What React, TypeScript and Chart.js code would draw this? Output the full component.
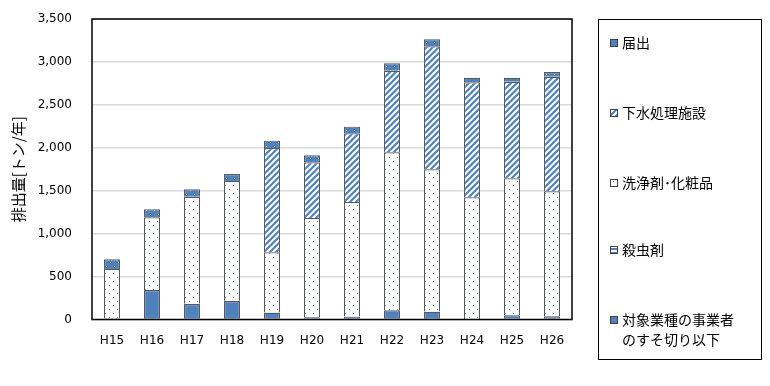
import React, { useEffect, useRef } from "react";
import { Chart, registerables } from "chart.js";

Chart.register(...registerables);

const categories = ["H15", "H16", "H17", "H18", "H19", "H20", "H21", "H22", "H23", "H24", "H25", "H26"];
const susokiri = [14, 343, 181, 215, 79, 26, 33, 107, 91, 0, 49, 37];
const satchuzai = [2, 2, 2, 2, 2, 2, 2, 2, 2, 2, 2, 2];
const senjozai = [571, 845, 1247, 1396, 702, 1154, 1333, 1838, 1656, 1421, 1593, 1454];
const gesui = [0, 0, 0, 0, 1214, 649, 800, 951, 1433, 1340, 1126, 1335];
const todokede = [115, 93, 86, 82, 86, 81, 78, 86, 81, 53, 46, 55];
const yTicksMax = 3500;
const yStep = 500;
const yTitle = "排出量[トン/年]";
const legendLabels = ["届出", "下水処理施設", "洗浄剤･化粧品", "殺虫剤", "対象業種の事業者|のすそ切り以下"];

const BLUE = "#4F81BD";

function makePattern(w: number, h: number, draw: (c: CanvasRenderingContext2D) => void) {
  const cv = document.createElement("canvas");
  cv.width = w;
  cv.height = h;
  const c = cv.getContext("2d")!;
  draw(c);
  return c.createPattern(cv, "repeat")!;
}

export default function App() {
  const ref = useRef<HTMLCanvasElement>(null);
  useEffect(() => {
    document.body.style.margin = "0";
    const dots = makePattern(8, 8, (c) => {
      c.fillStyle = "#fff";
      c.fillRect(0, 0, 8, 8);
      c.fillStyle = "#6A7FA8";
      c.fillRect(1, 1, 1, 1);
      c.fillRect(5, 5, 1, 1);
    });
    const hatch = makePattern(6, 6, (c) => {
      c.fillStyle = "#fff";
      c.fillRect(0, 0, 6, 6);
      c.strokeStyle = BLUE;
      c.lineWidth = 2.2;
      c.beginPath();
      c.moveTo(-1, 7);
      c.lineTo(7, -1);
      c.moveTo(-4, 4);
      c.lineTo(4, -4);
      c.moveTo(2, 10);
      c.lineTo(10, 2);
      c.stroke();
    });
    const blueDots = makePattern(8, 8, (c) => {
      c.fillStyle = BLUE;
      c.fillRect(0, 0, 8, 8);
      c.fillStyle = "#fff";
      c.fillRect(2, 2, 1, 1);
      c.fillRect(6, 6, 1, 1);
    });
    const hlines = makePattern(4, 4, (c) => {
      c.fillStyle = "#fff";
      c.fillRect(0, 0, 4, 4);
      c.fillStyle = BLUE;
      c.fillRect(0, 0, 4, 2);
    });
    const legendFills = [blueDots, hatch, dots, hlines, BLUE];

    const framePlugin = {
      id: "frame",
      afterDraw(chart: any) {
        const { ctx, chartArea: a } = chart;
        ctx.save();
        ctx.strokeStyle = "#000";
        ctx.lineWidth = 1.5;
        ctx.strokeRect(a.left, a.top, a.right - a.left, a.bottom - a.top);
        // y title
        ctx.translate(18, (a.top + a.bottom) / 2);
        ctx.rotate(-Math.PI / 2);
        ctx.fillStyle = "#000";
        ctx.font = '15px "Noto Sans CJK JP"';
        ctx.textAlign = "center";
        ctx.textBaseline = "middle";
        ctx.fillText(yTitle, 0, 0);
        ctx.restore();
        // legend
        ctx.save();
        ctx.strokeStyle = "#000";
        ctx.lineWidth = 1;
        ctx.strokeRect(598.5, 19.5, 163, 340);
        const ys = [43, 113, 183, 250, 320];
        ctx.font = '14px "Noto Sans CJK JP"';
        ctx.textBaseline = "middle";
        ctx.textAlign = "left";
        legendLabels.forEach((lab, i) => {
          const y = ys[i];
          ctx.fillStyle = legendFills[i];
          ctx.fillRect(610, y - 4, 8, 8);
          ctx.strokeStyle = "#404040";
          ctx.strokeRect(610.5, y - 3.5, 7, 7);
          ctx.fillStyle = "#000";
          lab.split("|").forEach((ln, j) => ctx.fillText(ln, 622, y + j * 20));
        });
        ctx.restore();
      },
    };

    const border = "#595959";
    const mk = (label: string, data: number[], bg: any) => ({
      label,
      data,
      backgroundColor: bg,
      borderColor: border,
      borderWidth: 1.2,
      categoryPercentage: 1,
      barPercentage: 0.4,
    });

    const chart = new Chart(ref.current!, {
      type: "bar",
      data: {
        labels: categories,
        datasets: [
          mk("対象業種の事業者のすそ切り以下", susokiri, BLUE),
          mk("殺虫剤", satchuzai, hlines),
          mk("洗浄剤・化粧品", senjozai, dots),
          mk("下水処理施設", gesui, hatch),
          mk("届出", todokede, blueDots),
        ],
      },
      options: {
        responsive: false,
        animation: false,
        layout: { padding: { top: 19, right: 198, bottom: 0, left: 0 } },
        plugins: { legend: { display: false }, tooltip: { enabled: false } },
        scales: {
          x: {
            stacked: true,
            grid: { display: false, drawTicks: false },
            border: { display: false },
            ticks: { color: "#000", font: { family: "DejaVu Sans", size: 12 }, padding: 14 },
            afterFit: (s: any) => {
              s.height = 66.5;
            },
          },
          y: {
            stacked: true,
            min: 0,
            max: yTicksMax,
            grid: { color: "#D9D9D9", lineWidth: 1.5, drawTicks: false },
            border: { display: false },
            ticks: {
              stepSize: yStep,
              color: "#000",
              font: { family: "DejaVu Sans", size: 12 },
              padding: 20,
              callback: (v: any) => Number(v).toLocaleString("en-US"),
            },
            afterFit: (s: any) => {
              s.width = 92;
              s.paddingTop = 0;
              s.paddingBottom = 0;
            },
          },
        },
      },
      plugins: [framePlugin],
    });
    return () => chart.destroy();
  }, []);
  return <canvas ref={ref} width={770} height={386} />;
}
